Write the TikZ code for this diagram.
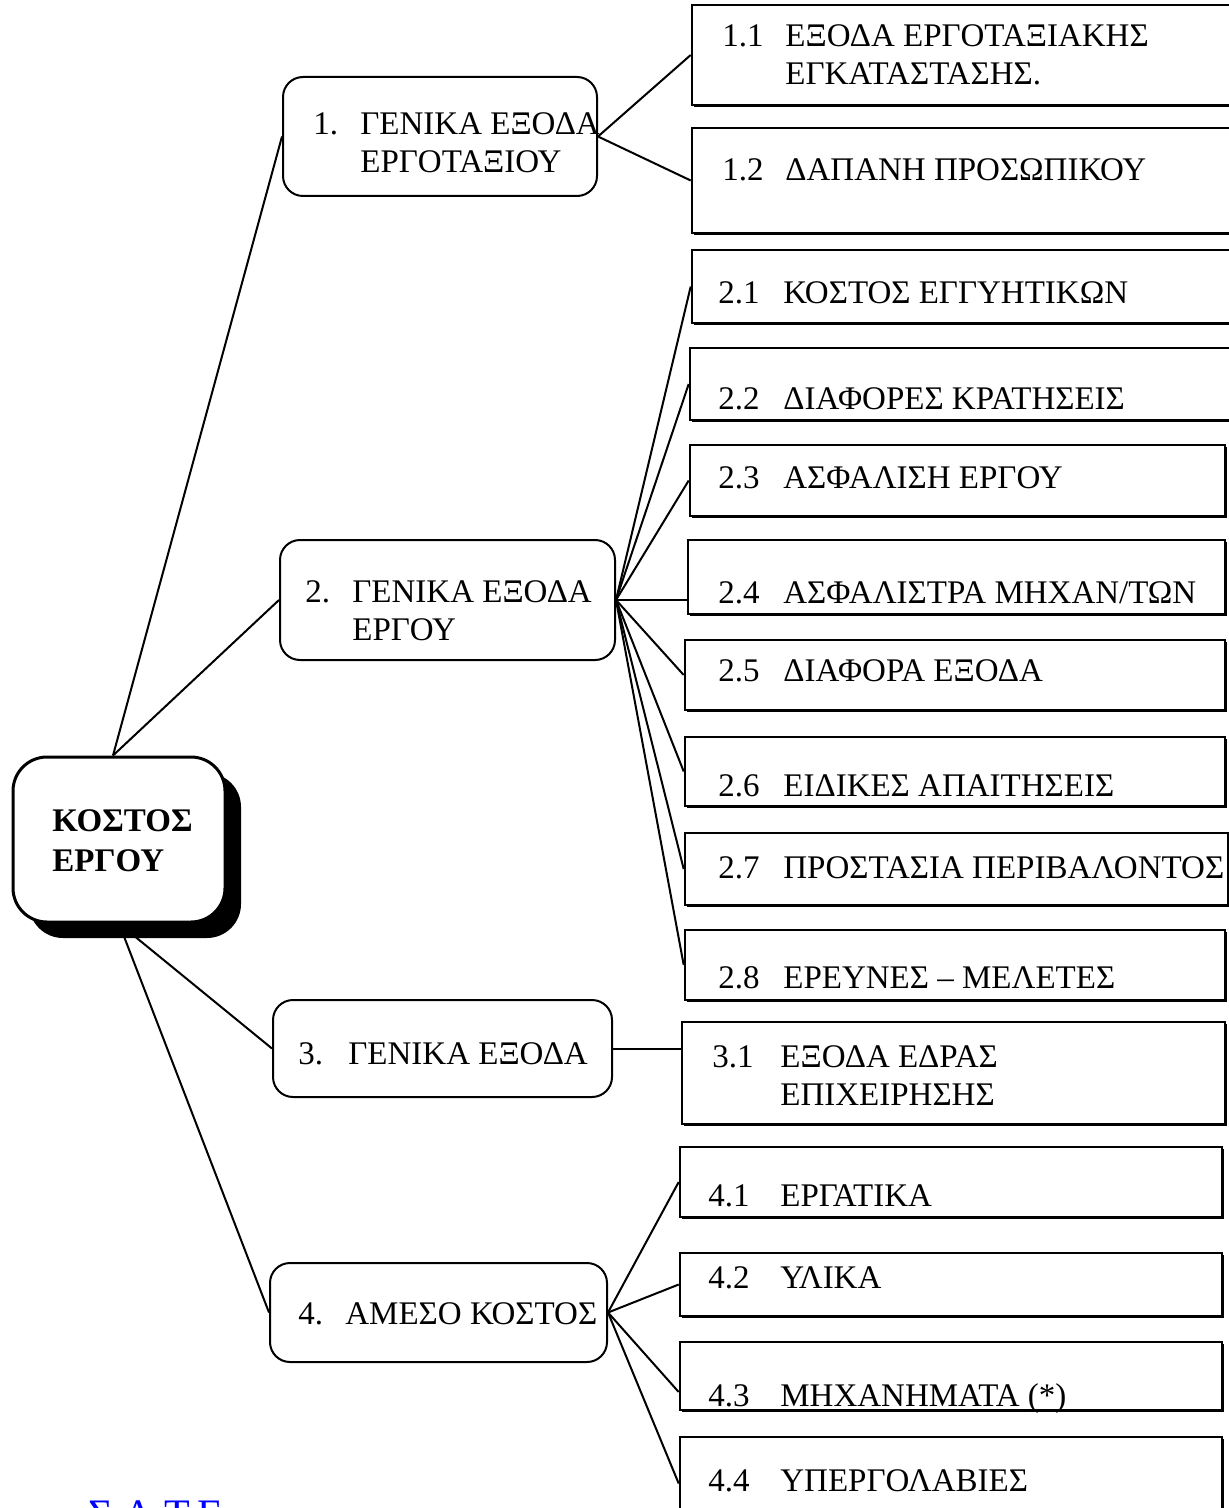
\documentclass[tikz,border=0pt]{standalone}
\usepackage{fontspec}
\setmainfont{Liberation Serif}
\usetikzlibrary{fit,shadows,backgrounds}
\newcommand{\nr}[2][31.5pt]{\makebox[#1][l]{#2}}
\begin{document}
\begin{tikzpicture}[x=0.5pt,y=-0.5pt,
  every node/.style={font=\fontsize{16.5pt}{19pt}\selectfont},
  leafbox/.style={draw, line width=1.3pt, fill=white, inner sep=0pt,
    general shadow={fill=black, shadow xshift=0.8pt, shadow yshift=-0.8pt}},
  midbox/.style={draw, line width=1pt, rounded corners=10pt, fill=white, inner sep=0pt},
  topbox/.style={draw, line width=1.5pt, rounded corners=17pt, fill=white, inner sep=0pt,
    general shadow={fill=black, shadow xshift=8pt, shadow yshift=-8pt}},
  txt/.style={anchor=base west, align=left, inner sep=0pt},
  link/.style={line width=1pt}]
\useasboundingbox (0,0) rectangle (1228,1508);
% root box (two-line texts sit on the baseline of their last line)
\node[topbox, fit={(13,757) (225,922)}] (cost) {};
\node[txt, font=\fontsize{16.5pt}{20pt}\selectfont\bfseries] (tcost) at (52,871) {ΚΟΣΤΟΣ\\ΕΡΓΟΥ};
% middle boxes
\node[midbox, fit={(283,77) (597,196)}] (m1) {};
\node[midbox, fit={(280,540) (615,660)}] (m2) {};
\node[midbox, fit={(273,1000) (612,1097)}] (m3) {};
\node[midbox, fit={(270,1263) (607,1362)}] (m4) {};
\node[txt] (tm1) at (313,173) {\nr[23.5pt]{1.}ΓΕΝΙΚΑ ΕΞΟΔΑ\\\nr[23.5pt]{}ΕΡΓΟΤΑΞΙΟΥ};
\node[txt] (tm2) at (305,640) {\nr[23.5pt]{2.}ΓΕΝΙΚΑ ΕΞΟΔΑ\\\nr[23.5pt]{}ΕΡΓΟΥ};
\node[txt] (tm3) at (298,1064) {\nr[25pt]{3.}ΓΕΝΙΚΑ ΕΞΟΔΑ};
\node[txt] (tm4) at (298,1324) {\nr[23.5pt]{4.}ΑΜΕΣΟ ΚΟΣΤΟΣ};
% right boxes: name/left/top/right/bottom
\foreach \n/\xa/\ya/\xb/\yb in {11/692/5/1240/105, 12/692/128/1240/233,
  21/692/250/1240/323, 22/690/348/1240/420, 23/690/445/1225/516,
  24/688/540/1225/614, 25/685/640/1225/710, 26/685/737/1225/806,
  27/685/833/1228/905, 28/685/930/1225/1000, 31/682/1022/1225/1124,
  41/680/1147/1222/1217, 42/680/1253/1222/1316, 43/680/1342/1222/1410,
  44/680/1437/1222/1530}
  \node[leafbox, fit={(\xa,\ya) (\xb,\yb)}] (b\n) {};
\node[txt] (t11) at (722,85) {\nr{1.1}ΕΞΟΔΑ ΕΡΓΟΤΑΞΙΑΚΗΣ\\\nr{}ΕΓΚΑΤΑΣΤΑΣΗΣ.};
\node[txt] (t12) at (722,181) {\nr{1.2}ΔΑΠΑΝΗ ΠΡΟΣΩΠΙΚΟΥ};
\node[txt] (t21) at (718,304) {\nr[32.5pt]{2.1}ΚΟΣΤΟΣ ΕΓΓΥΗΤΙΚΩΝ};
\node[txt] (t22) at (718,409) {\nr[32.5pt]{2.2}ΔΙΑΦΟΡΕΣ ΚΡΑΤΗΣΕΙΣ};
\node[txt] (t23) at (718,488) {\nr[32.5pt]{2.3}ΑΣΦΑΛΙΣΗ ΕΡΓΟΥ};
\node[txt] (t24) at (718,603) {\nr[32.5pt]{2.4}ΑΣΦΑΛΙΣΤΡΑ ΜΗΧΑΝ/ΤΩΝ};
\node[txt] (t25) at (718,681) {\nr[32.5pt]{2.5}ΔΙΑΦΟΡΑ ΕΞΟΔΑ};
\node[txt] (t26) at (718,796) {\nr[32.5pt]{2.6}ΕΙΔΙΚΕΣ ΑΠΑΙΤΗΣΕΙΣ};
\node[txt] (t27) at (718,878) {\nr[32.5pt]{2.7}ΠΡΟΣΤΑΣΙΑ ΠΕΡΙΒΑΛΟΝΤΟΣ};
\node[txt] (t28) at (718,988) {\nr[32.5pt]{2.8}ΕΡΕΥΝΕΣ – ΜΕΛΕΤΕΣ};
\node[txt] (t31) at (712,1105) {\nr[34pt]{3.1}ΕΞΟΔΑ ΕΔΡΑΣ\\\nr[34pt]{}ΕΠΙΧΕΙΡΗΣΗΣ};
\node[txt] (t41) at (708,1206) {\nr[36pt]{4.1}ΕΡΓΑΤΙΚΑ};
\node[txt] (t42) at (708,1288) {\nr[36pt]{4.2}ΥΛΙΚΑ};
\node[txt] (t43) at (708,1406) {\nr[36pt]{4.3}ΜΗΧΑΝΗΜΑΤΑ (*)};
\node[txt] (t44) at (708,1491) {\nr[36pt]{4.4}ΥΠΕΡΓΟΛΑΒΙΕΣ};
% logo, cut by the page edge
\node[anchor=base west, inner sep=0pt, text=blue, font=\fontsize{21pt}{23pt}\selectfont] (sate) at (88,1528) {Σ.Α.Τ.Ε.};
% connectors behind the boxes
\begin{pgfonlayer}{background}
\draw[link] ([xshift=-3pt]cost.north) -- (m1.west);
\draw[link] ([xshift=-3pt]cost.north) -- (m2.west);
\draw[link] (cost.south) -- (m3.west);
\draw[link] (cost.south) -- (m4.west);
\foreach \n in {11,12} \draw[link] (m1.east) -- (b\n.west);
\foreach \n in {21,22,23,25,26,27,28} \draw[link] (m2.east) -- (b\n.west);
\draw[link] (m2.east) -- (m2.east -| b24.west);
\draw[link] (m3.east) -- (m3.east -| b31.west);
\foreach \n in {41,42,44} \draw[link] (m4.east) -- (b\n.west);
\draw[link] (m4.east) -- ([yshift=-8pt]b43.west);
\end{pgfonlayer}
\end{tikzpicture}
\end{document}
